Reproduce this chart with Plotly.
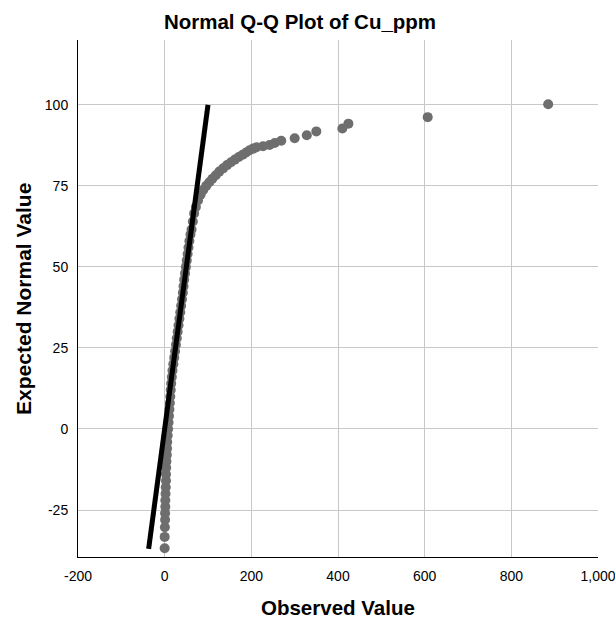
import plotly.graph_objects as go

observed = [0, 0, 0.5, 1, 1, 1.5, 1.5, 2, 2.5, 3, 3, 3.5, 4, 5, 5.5, 6, 7, 8,
            9, 10, 11, 12, 13, 14, 15, 16.5, 18, 20, 22, 24, 26, 28, 30, 32, 34,
            36, 38, 40, 42, 43.5, 45, 47, 49, 51, 53, 55, 57, 59.5,
            62, 65, 68, 72, 77, 83, 89, 96, 103, 110, 118, 126, 135, 144, 153,
            162, 171, 180, 188, 196, 204, 212,
            227, 242, 254, 269, 300, 328, 350, 410, 424, 607, 885]
expected = [-36.8, -33.3, -30.3, -28, -26, -24, -22, -20, -18, -16, -14, -12, -10, -8, -6, -4, -2, 0,
            2, 4, 6, 8, 10, 12, 14, 16, 18, 20, 22, 24, 26, 28, 30, 32, 34,
            36, 38, 40, 42, 44, 46, 48, 50, 52, 54, 56, 58, 60,
            61.5, 64, 66.5, 68.5, 70.5, 72.3, 73.7, 75, 76.1, 77.2, 78.3, 79.4, 80.4, 81.4, 82.3,
            83.1, 83.9, 84.6, 85.3, 86, 86.5, 86.9,
            87.2, 87.6, 88.2, 88.9, 89.7, 90.6, 91.8, 92.7, 94.2, 96.2, 100.2]

# Reference line (observed = expected)
line_x = [-37, 100]
line_y = [-37, 100]

x_ticks = [-200, 0, 200, 400, 600, 800, 1000]
x_tick_labels = ["-200", "0", "200", "400", "600", "800", "1,000"]
y_ticks = [-25, 0, 25, 50, 75, 100]
y_tick_labels = ["-25", "0", "25", "50", "75", "100"]

FONT = "Arial, Liberation Sans, sans-serif"

fig = go.Figure()
fig.add_trace(go.Scatter(
    x=observed, y=expected, mode="markers",
    marker=dict(color="#6e6e6e", size=10, line=dict(width=0)),
    hoverinfo="skip", showlegend=False,
))
fig.add_trace(go.Scatter(
    x=line_x, y=line_y, mode="lines",
    line=dict(color="black", width=5),
    hoverinfo="skip", showlegend=False,
))

fig.update_layout(
    width=615, height=618,
    margin=dict(l=78, r=17, t=40, b=61, autoexpand=False),
    paper_bgcolor="white", plot_bgcolor="white",
    font=dict(family=FONT, color="black", size=14),
    title=dict(text="<b>Normal Q-Q Plot of Cu_ppm</b>", x=300 / 615, xanchor="center",
               y=1 - 22 / 618, yanchor="middle", yref="container",
               font=dict(size=20.5, family=FONT, color="black")),
    showlegend=False,
    annotations=[
        dict(text="<b>Observed Value</b>", xref="paper", yref="paper",
             x=0.5, y=-0.097, xanchor="center", yanchor="middle",
             showarrow=False, font=dict(size=20.5, family=FONT, color="black")),
        dict(text="<b>Expected Normal Value</b>", xref="paper", yref="paper",
             x=-0.105, y=0.5, xanchor="center", yanchor="middle", textangle=-90,
             showarrow=False, font=dict(size=21, family=FONT, color="black")),
    ],
)
fig.update_xaxes(
    range=[-200, 1000], tickvals=x_ticks, ticktext=x_tick_labels, automargin=False,
    ticklabeloverflow="allow",
    showgrid=True, gridcolor="#c8c8c8", gridwidth=1,
    zeroline=False, showline=True, linecolor="black", linewidth=1,
    ticks="", ticklabelstandoff=6, tickfont=dict(size=14, family=FONT, color="black"),
)
fig.update_yaxes(
    range=[-39.5, 120], tickvals=y_ticks, ticktext=y_tick_labels, automargin=False,
    ticklabeloverflow="allow",
    showgrid=True, gridcolor="#c8c8c8", gridwidth=1,
    zeroline=False, showline=True, linecolor="black", linewidth=1,
    ticks="", ticklabelstandoff=6, tickfont=dict(size=14, family=FONT, color="black"),
)

fig.write_html("out.html", config={"displayModeBar": False})

# remove default page margin so the 615x618 figure fills the window exactly
with open("out.html", "r", encoding="utf-8") as f:
    html = f.read()
html = html.replace("<body>", '<body style="margin:0;padding:0;overflow:hidden">', 1)
with open("out.html", "w", encoding="utf-8") as f:
    f.write(html)
